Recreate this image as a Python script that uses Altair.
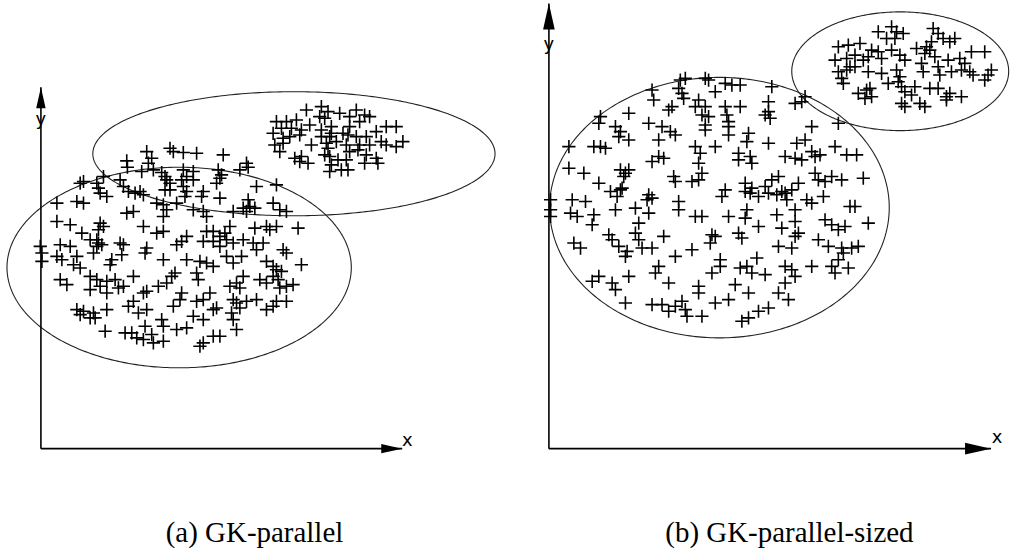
import altair as alt
import pandas as pd
import numpy as np

# ---------------- data (units: arbitrary, origin at the axes' corner) ----------------
# Panel (a) GK-parallel : upper cluster
a_upper = [(798,1018),(843,1028),(863,1013),(838,998),(853,993),(708,983),(738,983),(768,988),
           (723,963),(753,963),(783,958),(808,973),(698,948),(728,933),(748,938),(778,943),
           (703,913),(728,918),(718,893),(813,913),(843,958),(873,968),(873,948),(843,938),
           (868,938),(898,1008),(928,998),(948,1018),(973,1003),(988,998),(958,983),(928,968),
           (908,948),(923,943),(888,923),(918,913),(858,918),(863,903),(853,883),(868,878),
           (948,938),(978,938),(1008,953),(1038,968),(1068,968),(958,913),(988,913),(1023,923),
           (1038,913),(1088,923),(1068,908),(928,893),(953,898),(978,883),(1008,873),(973,858),
           (1013,858),(763,873),(783,878),(778,863),(803,858),(873,853),(893,868),(918,868),
           (868,833),(903,838),(923,838)]
# Panel (a) : lower cluster
a_lower = [(258,865),(260,846),(318,893),(333,873),(323,858),(388,903),(398,893),(428,890),
           (468,888),(548,883),(618,858),(338,838),(363,830),(373,818),(303,833),(428,838),
           (458,833),(438,818),(423,808),(458,808),(533,838),(543,823),(538,813),(528,798),
           (598,838),(623,846),(128,803),(188,818),(168,798),(173,783),(198,758),(178,768),
           (238,808),(248,788),(263,773),(283,768),(298,773),(308,763),(378,808),(388,798),
           (373,778),(388,778),(428,788),(438,773),(433,758),(488,773),(483,758),(538,753),
           (648,788),(708,793),(118,798),
           (48,738),(108,743),(128,738),(258,708),(278,713),(348,738),(368,733),(378,718),
           (368,698),(408,738),(458,718),(488,713),(498,698),(578,713),(608,723),(618,713),
           (628,728),(643,723),(623,748),(698,738),(718,718),(738,713),(48,683),(88,673),
           (178,678),(188,668),(173,658),(308,668),(348,648),(368,653),(518,653),(568,668),
           (553,648),(538,638),(643,663),(678,668),(688,658),(708,668),(773,663),(123,648),
           (148,628),
           (-2,608),(3,588),(3,563),(58,613),(88,608),(48,578),(63,568),(108,578),(168,628),
           (173,618),(183,613),(238,618),(248,613),(318,603),(313,588),(368,568),(408,613),
           (423,623),(438,638),(488,623),(518,623),(558,628),(578,618),(538,608),(498,653),
           (608,628),(638,618),(668,618),(648,598),(728,598),(738,588),(438,568),(478,563),
           (498,558),(518,548),(558,578),(603,578),(578,558),(98,553),(118,543),(158,588),
           (168,608),(213,568),(208,553),(243,583),(678,563),(698,548),(708,538),(723,533),
           (783,553),
           (58,508),(78,493),(148,518),(168,508),(178,488),(148,478),(198,468),(198,503),
           (223,508),(233,483),(248,488),(278,518),(308,468),(318,473),(353,488),(378,498),
           (393,518),(403,528),(468,528),(473,508),(568,488),(588,498),(598,483),(608,518),
           (658,508),(678,498),(698,518),(713,508),(718,483),(738,488),(758,493),(423,468),
           (418,448),(468,443),(488,448),(508,468),(528,423),(578,448),(588,438),(598,423),
           (618,443),(648,448),(678,418),(698,428),(708,443),(738,443),
           (108,418),(128,413),(118,403),(158,408),(163,393),(198,418),(148,393),(263,428),
           (278,443),(293,408),(318,418),(398,428),(458,398),(488,388),(518,418),(578,388),
           (573,408),(313,368),(368,368),(363,388),(408,358),(438,363),(193,353),(253,348),
           (273,348),(288,333),(308,328),(333,343),(338,318),(368,323),(488,318),(478,308),
           (518,338),(538,338),(588,358)]

# Panel (b) GK-parallel-sized : small upper-right cluster
b_small = [(990,1253),(1030,1268),(1045,1253),(1065,1248),(1015,1233),(1040,1233),(1155,1263),
           (1170,1248),(1185,1233),(1205,1223),(1220,1233),(1150,1223),(1135,1208),(870,1208),
           (900,1213),(935,1218),(970,1198),(990,1193),(1030,1198),(860,1168),(895,1173),
           (920,1183),(945,1168),(960,1178),(1000,1173),(1055,1183),(1070,1168),(1105,1203),
           (1130,1188),(1145,1198),(1160,1178),(1200,1168),(1235,1173),(1270,1193),(1310,1193),
           (870,1133),(895,1138),(905,1148),(920,1148),(960,1133),(1000,1128),(1045,1138),
           (1055,1118),(1050,1103),(1120,1158),(1125,1133),(1170,1148),(1175,1123),(1210,1133),
           (1240,1138),(1250,1158),(1265,1133),(1275,1123),(1320,1123),(1330,1138),(1310,1108),
           (880,1113),(885,1098),(930,1068),(955,1078),(965,1083),(970,1058),(950,1053),
           (1020,1098),(1060,1088),(1070,1073),(1090,1063),(1100,1088),(1145,1083),(1170,1083),
           (1195,1058),(1205,1068),(1240,1058),(1060,1038),(1070,1028),(1115,1038),(1130,1028),
           (1195,1048)]
# Panel (b) : large cluster
b_large = [(395,1108),(410,1113),(470,1113),(480,1108),(530,1098),(575,1093),(670,1088),
           (310,1078),(390,1083),(400,1068),(500,1073),(550,1093),(315,1048),(405,1053),
           (450,1048),(470,1028),(360,1018),(370,1028),(440,1028),(460,1003),(480,998),
           (530,1028),(575,1028),(535,1003),(540,983),(660,1043),(660,1013),(650,1003),
           (665,993),(740,1038),(760,1043),(770,1058),(240,1008),(155,998),(150,978),(200,968),
           (215,953),(240,928),(210,938),(300,978),(340,968),(365,953),(380,943),(330,928),
           (470,973),(470,958),(540,968),(540,943),(600,948),(595,923),(660,918),(790,968),
           (870,978),(60,908),(135,908),(155,908),(170,903),(330,878),(310,863),(345,873),
           (440,908),(455,888),(450,858),(500,908),(570,888),(605,878),(610,858),(570,868),
           (710,878),(740,873),(760,868),(745,918),(770,928),(790,893),(800,878),(815,883),
           (860,908),(895,883),(925,883),(60,843),(105,828),(215,838),(230,828),(225,818),
           (240,838),(375,818),(380,803),(430,803),(450,808),(460,828),(590,798),(610,783),
           (650,788),(670,808),(690,818),(700,773),(660,768),(730,778),(750,798),(800,828),
           (810,808),(830,803),(850,818),(880,808),(945,813),(150,798),(185,773),(215,778),
           (205,758),(220,783),(300,763),(295,748),(310,753),(530,778),(520,758),(590,773),
           (605,768),(630,758),(685,763),(710,768),(715,748),(775,748),(790,738),(825,758),
           (70,748),(110,743),(65,708),(85,698),(135,703),(5,748),(5,718),(5,698),(200,718),
           (260,723),(270,678),(300,708),(390,743),(390,718),(440,698),(460,698),(540,698),
           (590,693),(595,718),(630,668),(685,703),(700,663),(740,718),(740,683),(830,688),
           (850,673),(870,658),(890,668),(905,728),(920,728),(960,678),(130,673),(180,643),
           (190,628),(210,608),(235,593),(260,648),(270,628),(280,603),(310,603),(345,638),
           (430,598),(490,643),(500,638),(485,618),(570,648),(580,633),(690,608),(730,603),
           (740,638),(750,648),(810,628),(840,608),(880,603),(910,603),(930,608),(885,588),
           (870,568),(75,618),(95,603),(230,578),(380,578),(330,548),(320,528),(360,498),
           (515,568),(515,548),(490,528),(595,548),(625,573),(575,543),(610,528),(650,523),
           (710,548),(730,538),(740,518),(790,548),(850,548),(860,528),(900,543),(130,503),
           (150,518),(190,498),(200,478),(240,518),(450,488),(450,468),(560,493),(600,468),
           (710,498),(690,468),(720,448),(230,438),(310,433),(340,433),(360,413),(380,428),
           (400,443),(410,418),(415,398),(460,398),(500,438),(540,448),(630,413),(660,423),
           (580,383),(600,393)]

# Ellipses (cluster prototypes): centre x, centre y, radius x, radius y
ellipses_a = [(760.5, 886.5, 604.5, 186.5), (415.5, 544.5, 517.5, 301.5)]
ellipses_b = [(1056.0, 1134.5, 326.0, 178.5), (512.5, 724.5, 510.5, 391.5)]

captions = ["(a) GK-parallel", "(b) GK-parallel-sized"]

# ---------------- helpers ----------------
PLUS = "M-1,0L1,0M0,-1L0,1"
ARROW_UP = "M0,0L0.45,2L-0.45,2Z"
ARROW_RIGHT = "M0,0L-2,0.45L-2,-0.45Z"
Y_DOMAIN = [-303, 1347]
H = 550


def ellipse_frame(ells):
    t = np.linspace(0, 2 * np.pi, 361)
    frames = []
    for i, (cx, cy, rx, ry) in enumerate(ells):
        frames.append(pd.DataFrame({"x": cx + rx * np.cos(t), "y": cy + ry * np.sin(t),
                                    "o": np.arange(len(t)), "id": i}))
    return pd.concat(frames, ignore_index=True)


def panel(width, xdom, pts, ells, ytip, xtip, ylab, xlab, caption, capx, arrow):
    X = alt.X("x:Q", scale=alt.Scale(domain=xdom, nice=False, zero=False), axis=None)
    Y = alt.Y("y:Q", scale=alt.Scale(domain=Y_DOMAIN, nice=False, zero=False), axis=None)

    axes_df = pd.DataFrame({"x": [0, 0], "y": [0, 0], "x2": [0, xtip], "y2": [ytip, 0]})
    axes = alt.Chart(axes_df).mark_rule(color="black", strokeWidth=1.6).encode(
        x=X, y=Y, x2="x2:Q", y2="y2:Q")

    up = alt.Chart(pd.DataFrame({"x": [0], "y": [ytip]})).mark_point(
        shape=ARROW_UP, size=arrow ** 2, filled=True, color="black", opacity=1).encode(x=X, y=Y)
    right = alt.Chart(pd.DataFrame({"x": [xtip], "y": [0]})).mark_point(
        shape=ARROW_RIGHT, size=arrow ** 2, filled=True, color="black", opacity=1).encode(x=X, y=Y)

    ell = alt.Chart(ellipse_frame(ells)).mark_line(color="#222222", strokeWidth=1.1).encode(
        x=X, y=Y, order="o:Q", detail="id:N")

    pdf = pd.DataFrame(pts, columns=["x", "y"])
    plus = alt.Chart(pdf).mark_point(shape=PLUS, size=175, filled=False, color="black",
                                     strokeWidth=1.6, opacity=1).encode(x=X, y=Y)

    lab_df = pd.DataFrame({"x": [0, xlab[0]], "y": [ylab, xlab[1]], "t": ["y", "x"]})
    labs = alt.Chart(lab_df).mark_text(font="DejaVu Sans", fontSize=18, color="black",
                                       align="center", baseline="middle").encode(
        x=X, y=Y, text="t:N")

    cap = alt.Chart(pd.DataFrame({"x": [capx], "y": [-255], "t": [caption]})).mark_text(
        font="Liberation Serif", fontSize=29, color="black", align="center",
        baseline="middle").encode(x=X, y=Y, text="t:N")

    return alt.layer(ell, axes, up, right, plus, labs, cap).properties(width=width, height=H)


pa = panel(520, [-123, 1437], a_upper + a_lower, ellipses_a, 1086, 1086, 987, (1101, 24),
           captions[0], 642, 21)
pb = panel(491, [-90, 1383], b_small + b_large, ellipses_b, 1338, 1329, 1212, (1347, 33),
           captions[1], 723, 26)

chart = alt.hconcat(pa, pb, spacing=0).properties(padding=0, background="white").configure_view(
    stroke=None)

chart.save("out.html", embed_options={"renderer": "svg", "actions": False})
